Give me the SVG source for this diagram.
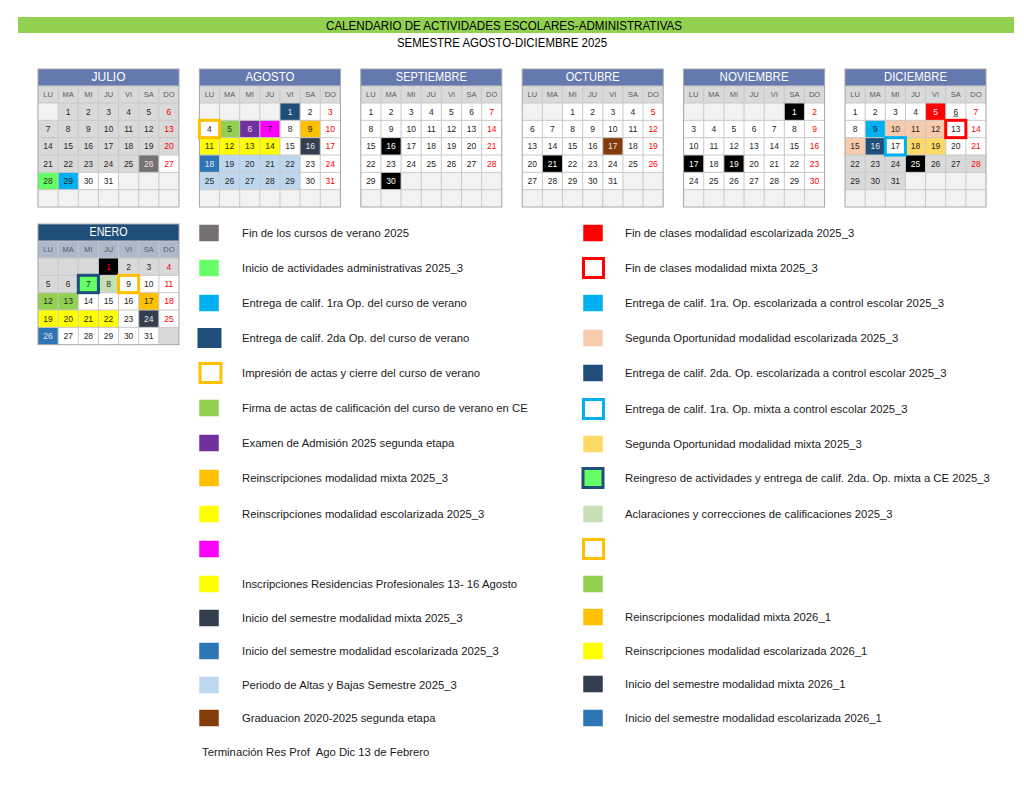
<svg xmlns="http://www.w3.org/2000/svg" width="1024" height="791" viewBox="0 0 1024 791">
<defs>
<style>
text{font-family:"Liberation Sans",Arial,sans-serif}
.hd{font-size:12px;fill:#000;text-anchor:middle}
.mt{font-size:12.5px;fill:#fff;text-anchor:middle}
.dh{font-size:7.5px;fill:#595959;text-anchor:middle}
.n{font-size:8.5px;fill:#262626;text-anchor:middle}
.r{fill:#FF0000}
.wt{fill:#FFFFFF}
.lt{fill:#E6E6E6}
.lg{font-size:11.3px;fill:#1A1A1A;white-space:pre}
.grid{fill:none;stroke:#C8C8C8;stroke-width:1}
.frame{fill:none;stroke:#A6A6A6;stroke-width:1}
.ttl{fill:#6479AE}
.dhb{fill:#D9D9D9}
.E{fill:#F2F2F2}
.W{fill:#FFFFFF}
.G{fill:#D9D9D9}
.bd{fill:none;stroke-width:3}
.bw{fill:#FFFFFF;stroke-width:3}
.sq{stroke:#FFFFFF;stroke-width:0.5}
</style>
<path id="g6" d="M20.14 17V138M40.29 17V138M60.43 17V138M80.57 17V138M100.71 17V138M120.86 17V138M0 17H141M0 34H141M0 51.33H141M0 68.67H141M0 86H141M0 103.33H141M0 120.67H141"/>
<path id="g5" d="M20.14 17V120.67M40.29 17V120.67M60.43 17V120.67M80.57 17V120.67M100.71 17V120.67M120.86 17V120.67M0 17H141M0 34H141M0 51.33H141M0 68.67H141M0 86H141M0 103.33H141"/>
<g id="dh" class="dh">
<text x="10.07" y="28.3">LU</text><text x="30.21" y="28.3">MA</text><text x="50.36" y="28.3">MI</text><text x="70.5" y="28.3">JU</text><text x="90.64" y="28.3">VI</text><text x="110.79" y="28.3">SA</text><text x="130.93" y="28.3">DO</text>
</g>
</defs>

<g id="header">
<rect x="18" y="17" width="996" height="16" fill="#92D050"/>
<text class="hd" x="504" y="29.5" textLength="356" lengthAdjust="spacingAndGlyphs">CALENDARIO DE ACTIVIDADES ESCOLARES-ADMINISTRATIVAS</text>
<text class="hd" x="502" y="46.5" textLength="210" lengthAdjust="spacingAndGlyphs">SEMESTRE AGOSTO-DICIEMBRE 2025</text>
</g>

<g id="julio" transform="translate(38,69)">
<rect class="ttl" width="141" height="17"/>
<text class="mt" x="70.5" y="12.4" textLength="34" lengthAdjust="spacingAndGlyphs">JULIO</text>
<rect class="dhb" y="17" width="141" height="17"/>
<rect class="W" y="34" width="141" height="104"/>
<rect class="E" y="34" width="20.14" height="17.33"/>
<rect class="G" x="20.14" y="34" width="120.86" height="17.33"/>
<rect class="G" y="51.33" width="141" height="34.67"/>
<rect class="G" y="86" width="100.71" height="17.33"/>
<rect fill="#767171" x="100.71" y="86" width="20.14" height="17.33"/>
<rect fill="#66FF66" y="103.33" width="20.14" height="17.33"/>
<rect fill="#00B0F0" x="20.14" y="103.33" width="20.14" height="17.33"/>
<rect class="E" x="80.57" y="103.33" width="60.43" height="17.33"/>
<rect class="E" y="120.67" width="141" height="17.33"/>
<use href="#g6" class="grid"/>
<rect class="frame" width="141" height="138"/>
<use href="#dh"/>
<g class="n">
<text y="45.7"><tspan x="30.21">1</tspan><tspan x="50.36">2</tspan><tspan x="70.5">3</tspan><tspan x="90.64">4</tspan><tspan x="110.79">5</tspan><tspan x="130.93" class="r">6</tspan></text>
<text y="63.03"><tspan x="10.07">7</tspan><tspan x="30.21">8</tspan><tspan x="50.36">9</tspan><tspan x="70.5">10</tspan><tspan x="90.64">11</tspan><tspan x="110.79">12</tspan><tspan x="130.93" class="r">13</tspan></text>
<text y="80.37"><tspan x="10.07">14</tspan><tspan x="30.21">15</tspan><tspan x="50.36">16</tspan><tspan x="70.5">17</tspan><tspan x="90.64">18</tspan><tspan x="110.79">19</tspan><tspan x="130.93" class="r">20</tspan></text>
<text y="97.7"><tspan x="10.07">21</tspan><tspan x="30.21">22</tspan><tspan x="50.36">23</tspan><tspan x="70.5">24</tspan><tspan x="90.64">25</tspan><tspan x="110.79" class="lt">26</tspan><tspan x="130.93" class="r">27</tspan></text>
<text y="115.03"><tspan x="10.07">28</tspan><tspan x="30.21">29</tspan><tspan x="50.36">30</tspan><tspan x="70.5">31</tspan></text>
</g>
</g>

<g id="agosto" transform="translate(199.4,69)">
<rect class="ttl" width="141" height="17"/>
<text class="mt" x="70.5" y="12.4" textLength="49" lengthAdjust="spacingAndGlyphs">AGOSTO</text>
<rect class="dhb" y="17" width="141" height="17"/>
<rect class="W" y="34" width="141" height="104"/>
<rect class="E" y="34" width="80.57" height="17.33"/>
<rect fill="#1F4E79" x="80.57" y="34" width="20.14" height="17.33"/>
<rect fill="#92D050" x="20.14" y="51.33" width="20.14" height="17.33"/>
<rect fill="#7030A0" x="40.29" y="51.33" width="20.14" height="17.33"/>
<rect fill="#FF00FF" x="60.43" y="51.33" width="20.14" height="17.33"/>
<rect fill="#FFC000" x="100.71" y="51.33" width="20.14" height="17.33"/>
<rect fill="#FFFF00" y="68.67" width="80.57" height="17.33"/>
<rect fill="#333F4F" x="100.71" y="68.67" width="20.14" height="17.33"/>
<rect fill="#2E75B6" y="86" width="20.14" height="17.33"/>
<rect fill="#BDD7EE" x="20.14" y="86" width="80.57" height="17.33"/>
<rect fill="#BDD7EE" y="103.33" width="100.71" height="17.33"/>
<rect class="E" y="120.67" width="141" height="17.33"/>
<use href="#g6" class="grid"/>
<rect class="frame" width="141" height="138"/>
<rect class="bd" stroke="#FFC000" y="51.33" width="20.14" height="17.33"/>
<use href="#dh"/>
<g class="n">
<text y="45.7"><tspan x="90.64" class="lt">1</tspan><tspan x="110.79">2</tspan><tspan x="130.93" class="r">3</tspan></text>
<text y="63.03"><tspan x="10.07">4</tspan><tspan x="30.21">5</tspan><tspan x="50.36" class="lt">6</tspan><tspan x="70.5">7</tspan><tspan x="90.64">8</tspan><tspan x="110.79">9</tspan><tspan x="130.93" class="r">10</tspan></text>
<text y="80.37"><tspan x="10.07">11</tspan><tspan x="30.21">12</tspan><tspan x="50.36">13</tspan><tspan x="70.5">14</tspan><tspan x="90.64">15</tspan><tspan x="110.79" class="lt">16</tspan><tspan x="130.93" class="r">17</tspan></text>
<text y="97.7"><tspan x="10.07" class="lt">18</tspan><tspan x="30.21">19</tspan><tspan x="50.36">20</tspan><tspan x="70.5">21</tspan><tspan x="90.64">22</tspan><tspan x="110.79">23</tspan><tspan x="130.93" class="r">24</tspan></text>
<text y="115.03"><tspan x="10.07">25</tspan><tspan x="30.21">26</tspan><tspan x="50.36">27</tspan><tspan x="70.5">28</tspan><tspan x="90.64">29</tspan><tspan x="110.79">30</tspan><tspan x="130.93" class="r">31</tspan></text>
</g>
</g>

<g id="septiembre" transform="translate(360.8,69)">
<rect class="ttl" width="141" height="17"/>
<text class="mt" x="70.5" y="12.4" textLength="71" lengthAdjust="spacingAndGlyphs">SEPTIEMBRE</text>
<rect class="dhb" y="17" width="141" height="17"/>
<rect class="W" y="34" width="141" height="104"/>
<rect fill="#000000" x="20.14" y="68.67" width="20.14" height="17.33"/>
<rect fill="#000000" x="20.14" y="103.33" width="20.14" height="17.33"/>
<rect class="E" x="40.29" y="103.33" width="100.71" height="17.33"/>
<rect class="E" y="120.67" width="141" height="17.33"/>
<use href="#g6" class="grid"/>
<rect class="frame" width="141" height="138"/>
<use href="#dh"/>
<g class="n">
<text y="45.7"><tspan x="10.07">1</tspan><tspan x="30.21">2</tspan><tspan x="50.36">3</tspan><tspan x="70.5">4</tspan><tspan x="90.64">5</tspan><tspan x="110.79">6</tspan><tspan x="130.93" class="r">7</tspan></text>
<text y="63.03"><tspan x="10.07">8</tspan><tspan x="30.21">9</tspan><tspan x="50.36">10</tspan><tspan x="70.5">11</tspan><tspan x="90.64">12</tspan><tspan x="110.79">13</tspan><tspan x="130.93" class="r">14</tspan></text>
<text y="80.37"><tspan x="10.07">15</tspan><tspan x="30.21" class="wt">16</tspan><tspan x="50.36">17</tspan><tspan x="70.5">18</tspan><tspan x="90.64">19</tspan><tspan x="110.79">20</tspan><tspan x="130.93" class="r">21</tspan></text>
<text y="97.7"><tspan x="10.07">22</tspan><tspan x="30.21">23</tspan><tspan x="50.36">24</tspan><tspan x="70.5">25</tspan><tspan x="90.64">26</tspan><tspan x="110.79">27</tspan><tspan x="130.93" class="r">28</tspan></text>
<text y="115.03"><tspan x="10.07">29</tspan><tspan x="30.21" class="wt">30</tspan></text>
</g>
</g>

<g id="octubre" transform="translate(522.2,69)">
<rect class="ttl" width="141" height="17"/>
<text class="mt" x="70.5" y="12.4" textLength="54" lengthAdjust="spacingAndGlyphs">OCTUBRE</text>
<rect class="dhb" y="17" width="141" height="17"/>
<rect class="W" y="34" width="141" height="104"/>
<rect class="E" y="34" width="40.29" height="17.33"/>
<rect fill="#843C0C" x="80.57" y="68.67" width="20.14" height="17.33"/>
<rect fill="#000000" x="20.14" y="86" width="20.14" height="17.33"/>
<rect class="E" x="100.71" y="103.33" width="40.29" height="17.33"/>
<rect class="E" y="120.67" width="141" height="17.33"/>
<use href="#g6" class="grid"/>
<rect class="frame" width="141" height="138"/>
<use href="#dh"/>
<g class="n">
<text y="45.7"><tspan x="50.36">1</tspan><tspan x="70.5">2</tspan><tspan x="90.64">3</tspan><tspan x="110.79">4</tspan><tspan x="130.93" class="r">5</tspan></text>
<text y="63.03"><tspan x="10.07">6</tspan><tspan x="30.21">7</tspan><tspan x="50.36">8</tspan><tspan x="70.5">9</tspan><tspan x="90.64">10</tspan><tspan x="110.79">11</tspan><tspan x="130.93" class="r">12</tspan></text>
<text y="80.37"><tspan x="10.07">13</tspan><tspan x="30.21">14</tspan><tspan x="50.36">15</tspan><tspan x="70.5">16</tspan><tspan x="90.64" class="lt">17</tspan><tspan x="110.79">18</tspan><tspan x="130.93" class="r">19</tspan></text>
<text y="97.7"><tspan x="10.07">20</tspan><tspan x="30.21" class="wt">21</tspan><tspan x="50.36">22</tspan><tspan x="70.5">23</tspan><tspan x="90.64">24</tspan><tspan x="110.79">25</tspan><tspan x="130.93" class="r">26</tspan></text>
<text y="115.03"><tspan x="10.07">27</tspan><tspan x="30.21">28</tspan><tspan x="50.36">29</tspan><tspan x="70.5">30</tspan><tspan x="90.64">31</tspan></text>
</g>
</g>

<g id="noviembre" transform="translate(683.6,69)">
<rect class="ttl" width="141" height="17"/>
<text class="mt" x="70.5" y="12.4" textLength="69" lengthAdjust="spacingAndGlyphs">NOVIEMBRE</text>
<rect class="dhb" y="17" width="141" height="17"/>
<rect class="W" y="34" width="141" height="104"/>
<rect class="E" y="34" width="100.71" height="17.33"/>
<rect fill="#000000" x="100.71" y="34" width="20.14" height="17.33"/>
<rect fill="#000000" y="86" width="20.14" height="17.33"/>
<rect fill="#000000" x="40.29" y="86" width="20.14" height="17.33"/>
<rect class="E" y="120.67" width="141" height="17.33"/>
<use href="#g6" class="grid"/>
<rect class="frame" width="141" height="138"/>
<use href="#dh"/>
<g class="n">
<text y="45.7"><tspan x="110.79" class="wt">1</tspan><tspan x="130.93" class="r">2</tspan></text>
<text y="63.03"><tspan x="10.07">3</tspan><tspan x="30.21">4</tspan><tspan x="50.36">5</tspan><tspan x="70.5">6</tspan><tspan x="90.64">7</tspan><tspan x="110.79">8</tspan><tspan x="130.93" class="r">9</tspan></text>
<text y="80.37"><tspan x="10.07">10</tspan><tspan x="30.21">11</tspan><tspan x="50.36">12</tspan><tspan x="70.5">13</tspan><tspan x="90.64">14</tspan><tspan x="110.79">15</tspan><tspan x="130.93" class="r">16</tspan></text>
<text y="97.7"><tspan x="10.07" class="wt">17</tspan><tspan x="30.21">18</tspan><tspan x="50.36" class="wt">19</tspan><tspan x="70.5">20</tspan><tspan x="90.64">21</tspan><tspan x="110.79">22</tspan><tspan x="130.93" class="r">23</tspan></text>
<text y="115.03"><tspan x="10.07">24</tspan><tspan x="30.21">25</tspan><tspan x="50.36">26</tspan><tspan x="70.5">27</tspan><tspan x="90.64">28</tspan><tspan x="110.79">29</tspan><tspan x="130.93" class="r">30</tspan></text>
</g>
</g>

<g id="diciembre" transform="translate(845,69)">
<rect class="ttl" width="141" height="17"/>
<text class="mt" x="70.5" y="12.4" textLength="63" lengthAdjust="spacingAndGlyphs">DICIEMBRE</text>
<rect class="dhb" y="17" width="141" height="17"/>
<rect class="W" y="34" width="141" height="104"/>
<rect fill="#FF0000" x="80.57" y="34" width="20.14" height="17.33"/>
<rect fill="#00B0F0" x="20.14" y="51.33" width="20.14" height="17.33"/>
<rect fill="#F8CBAD" x="40.29" y="51.33" width="60.43" height="17.33"/>
<rect fill="#F8CBAD" y="68.67" width="20.14" height="17.33"/>
<rect fill="#1F4E79" x="20.14" y="68.67" width="20.14" height="17.33"/>
<rect fill="#FFD966" x="60.43" y="68.67" width="40.29" height="17.33"/>
<rect class="G" y="86" width="60.43" height="17.33"/>
<rect fill="#000000" x="60.43" y="86" width="20.14" height="17.33"/>
<rect class="G" x="80.57" y="86" width="60.43" height="17.33"/>
<rect class="G" y="103.33" width="60.43" height="17.33"/>
<rect class="E" x="60.43" y="103.33" width="80.57" height="17.33"/>
<rect class="E" y="120.67" width="141" height="17.33"/>
<use href="#g6" class="grid"/>
<rect class="frame" width="141" height="138"/>
<rect class="bd" stroke="#FF0000" x="100.71" y="51.33" width="20.14" height="17.33"/>
<rect class="bd" stroke="#00B0F0" x="40.29" y="68.67" width="20.14" height="17.33"/>
<use href="#dh"/>
<g class="n">
<text y="45.7"><tspan x="10.07">1</tspan><tspan x="30.21">2</tspan><tspan x="50.36">3</tspan><tspan x="70.5">4</tspan><tspan x="90.64" class="wt">5</tspan><tspan x="110.79" text-decoration="underline">6</tspan><tspan x="130.93" class="r">7</tspan></text>
<text y="63.03"><tspan x="10.07">8</tspan><tspan x="30.21">9</tspan><tspan x="50.36">10</tspan><tspan x="70.5">11</tspan><tspan x="90.64">12</tspan><tspan x="110.79">13</tspan><tspan x="130.93" class="r">14</tspan></text>
<text y="80.37"><tspan x="10.07">15</tspan><tspan x="30.21" class="lt">16</tspan><tspan x="50.36">17</tspan><tspan x="70.5">18</tspan><tspan x="90.64">19</tspan><tspan x="110.79">20</tspan><tspan x="130.93" class="r">21</tspan></text>
<text y="97.7"><tspan x="10.07">22</tspan><tspan x="30.21">23</tspan><tspan x="50.36">24</tspan><tspan x="70.5" class="wt">25</tspan><tspan x="90.64">26</tspan><tspan x="110.79">27</tspan><tspan x="130.93" class="r">28</tspan></text>
<text y="115.03"><tspan x="10.07">29</tspan><tspan x="30.21">30</tspan><tspan x="50.36">31</tspan></text>
</g>
</g>

<g id="enero" transform="translate(38,224)">
<rect fill="#1F4E79" width="141" height="17"/>
<text class="mt" x="70.5" y="12.4" textLength="38" lengthAdjust="spacingAndGlyphs">ENERO</text>
<rect fill="#ADB9CA" y="17" width="141" height="17"/>
<rect class="W" y="34" width="141" height="86.67"/>
<rect class="G" y="34" width="60.43" height="17.33"/>
<rect fill="#000000" x="60.43" y="34" width="20.14" height="17.33"/>
<rect class="G" x="80.57" y="34" width="60.43" height="17.33"/>
<rect class="G" y="51.33" width="40.29" height="17.33"/>
<rect fill="#66FF66" x="40.29" y="51.33" width="20.14" height="17.33"/>
<rect fill="#C5E0B4" x="60.43" y="51.33" width="20.14" height="17.33"/>
<rect fill="#92D050" y="68.67" width="40.29" height="17.33"/>
<rect fill="#FFC000" x="100.71" y="68.67" width="20.14" height="17.33"/>
<rect fill="#FFFF00" y="86" width="80.57" height="17.33"/>
<rect fill="#333F4F" x="100.71" y="86" width="20.14" height="17.33"/>
<rect fill="#2E75B6" y="103.33" width="20.14" height="17.33"/>
<rect class="G" x="120.86" y="103.33" width="20.14" height="17.33"/>
<use href="#g5" class="grid"/>
<rect class="frame" width="141" height="120.67"/>
<rect class="bd" stroke="#1F4E79" x="40.29" y="51.33" width="20.14" height="17.33"/>
<rect class="bd" stroke="#FFC000" x="80.57" y="51.33" width="20.14" height="17.33"/>
<use href="#dh"/>
<g class="n">
<text y="45.7"><tspan x="70.5" class="r">1</tspan><tspan x="90.64">2</tspan><tspan x="110.79">3</tspan><tspan x="130.93" class="r">4</tspan></text>
<text y="63.03"><tspan x="10.07">5</tspan><tspan x="30.21">6</tspan><tspan x="50.36">7</tspan><tspan x="70.5">8</tspan><tspan x="90.64">9</tspan><tspan x="110.79">10</tspan><tspan x="130.93" class="r">11</tspan></text>
<text y="80.37"><tspan x="10.07">12</tspan><tspan x="30.21">13</tspan><tspan x="50.36">14</tspan><tspan x="70.5">15</tspan><tspan x="90.64">16</tspan><tspan x="110.79">17</tspan><tspan x="130.93" class="r">18</tspan></text>
<text y="97.7"><tspan x="10.07">19</tspan><tspan x="30.21">20</tspan><tspan x="50.36">21</tspan><tspan x="70.5">22</tspan><tspan x="90.64">23</tspan><tspan x="110.79" class="lt">24</tspan><tspan x="130.93" class="r">25</tspan></text>
<text y="115.03"><tspan x="10.07" class="lt">26</tspan><tspan x="30.21">27</tspan><tspan x="50.36">28</tspan><tspan x="70.5">29</tspan><tspan x="90.64">30</tspan><tspan x="110.79">31</tspan></text>
</g>
</g>

<g id="legend-left">
<g id="L1"><rect class="sq" fill="#767171" x="199" y="224.5" width="20" height="17"/><text class="lg" x="242" y="237">Fin de los cursos de verano 2025</text></g>
<g id="L2"><rect class="sq" fill="#66FF66" x="199" y="259.5" width="20" height="17"/><text class="lg" x="242" y="272">Inicio de actividades administrativas 2025_3</text></g>
<g id="L3"><rect class="sq" fill="#00B0F0" x="199" y="294.5" width="20" height="17"/><text class="lg" x="242" y="307">Entrega de calif. 1ra Op. del curso de verano</text></g>
<g id="L4"><rect fill="#1F4E79" x="197.5" y="328" width="24" height="20"/><text class="lg" x="242" y="342">Entrega de calif. 2da Op. del curso de verano</text></g>
<g id="L5"><rect class="bw" stroke="#FFC000" x="200" y="363.5" width="21" height="19"/><text class="lg" x="242" y="377">Impresión de actas y cierre del curso de verano</text></g>
<g id="L6"><rect class="sq" fill="#92D050" x="199" y="399.5" width="20" height="17"/><text class="lg" x="242" y="412">Firma de actas de calificación del curso de verano en CE</text></g>
<g id="L7"><rect class="sq" fill="#7030A0" x="199" y="434.5" width="20" height="17"/><text class="lg" x="242" y="447">Examen de Admisión 2025 segunda etapa</text></g>
<g id="L8"><rect class="sq" fill="#FFC000" x="199" y="469.5" width="20" height="17"/><text class="lg" x="242" y="482">Reinscripciones modalidad mixta 2025_3</text></g>
<g id="L9"><rect class="sq" fill="#FFFF00" x="199" y="505.5" width="20" height="17"/><text class="lg" x="242" y="518">Reinscripciones modalidad escolarizada 2025_3</text></g>
<g id="L10"><rect class="sq" fill="#FF00FF" x="199" y="540.5" width="20" height="17"/></g>
<g id="L11"><rect class="sq" fill="#FFFF00" x="199" y="575.5" width="20" height="17"/><text class="lg" x="242" y="588">Inscripciones Residencias Profesionales 13- 16 Agosto</text></g>
<g id="L12"><rect class="sq" fill="#333F4F" x="199" y="609.5" width="20" height="17"/><text class="lg" x="242" y="622">Inicio del semestre modalidad mixta 2025_3</text></g>
<g id="L13"><rect class="sq" fill="#2E75B6" x="199" y="642.5" width="20" height="17"/><text class="lg" x="242" y="655">Inicio del semestre modalidad escolarizada 2025_3</text></g>
<g id="L14"><rect class="sq" fill="#BDD7EE" x="199" y="676.5" width="20" height="17"/><text class="lg" x="242" y="689">Periodo de Altas y Bajas Semestre 2025_3</text></g>
<g id="L15"><rect class="sq" fill="#843C0C" x="199" y="709.5" width="20" height="17"/><text class="lg" x="242" y="722">Graduacion 2020-2025 segunda etapa</text></g>
<g id="L16"><text class="lg" x="202" y="756" xml:space="preserve">Terminación Res Prof  Ago Dic 13 de Febrero</text></g>
</g>

<g id="legend-right">
<g id="R1"><rect class="sq" fill="#FF0000" x="583" y="224.5" width="20" height="17"/><text class="lg" x="625" y="237">Fin de clases modalidad escolarizada 2025_3</text></g>
<g id="R2"><rect class="bw" stroke="#FF0000" x="583.5" y="258.5" width="20" height="19"/><text class="lg" x="625" y="272">Fin de clases modalidad mixta 2025_3</text></g>
<g id="R3"><rect class="sq" fill="#00B0F0" x="583" y="294.5" width="20" height="17"/><text class="lg" x="625" y="307">Entrega de calif. 1ra. Op. escolarizada a control escolar 2025_3</text></g>
<g id="R4"><rect class="sq" fill="#F8CBAD" x="583" y="329.5" width="20" height="17"/><text class="lg" x="625" y="342">Segunda Oportunidad modalidad escolarizada 2025_3</text></g>
<g id="R5"><rect class="sq" fill="#1F4E79" x="583" y="364.5" width="20" height="17"/><text class="lg" x="625" y="377">Entrega de calif. 2da. Op. escolarizada a control escolar 2025_3</text></g>
<g id="R6"><rect class="bw" stroke="#00B0F0" x="583.5" y="399.5" width="20" height="19"/><text class="lg" x="625" y="413">Entrega de calif. 1ra. Op. mixta a control escolar 2025_3</text></g>
<g id="R7"><rect class="sq" fill="#FFD966" x="583" y="435.5" width="20" height="17"/><text class="lg" x="625" y="448">Segunda Oportunidad modalidad mixta 2025_3</text></g>
<g id="R8"><rect style="fill:#66FF66;stroke:#1F4E79;stroke-width:3" x="583" y="468.5" width="20" height="19"/><text class="lg" x="625" y="482">Reingreso de actividades y entrega de calif. 2da. Op. mixta a CE 2025_3</text></g>
<g id="R9"><rect class="sq" fill="#C5E0B4" x="583" y="505.5" width="20" height="17"/><text class="lg" x="625" y="518">Aclaraciones y correcciones de calificaciones 2025_3</text></g>
<g id="R10"><rect class="bw" stroke="#FFC000" x="583.5" y="539.5" width="20" height="19"/></g>
<g id="R11"><rect class="sq" fill="#92D050" x="583" y="575.5" width="20" height="17"/></g>
<g id="R12"><rect class="sq" fill="#FFC000" x="583" y="608.5" width="20" height="17"/><text class="lg" x="625" y="621">Reinscripciones modalidad mixta 2026_1</text></g>
<g id="R13"><rect class="sq" fill="#FFFF00" x="583" y="642.5" width="20" height="17"/><text class="lg" x="625" y="655">Reinscripciones modalidad escolarizada 2026_1</text></g>
<g id="R14"><rect class="sq" fill="#333F4F" x="583" y="675.5" width="20" height="17"/><text class="lg" x="625" y="688">Inicio del semestre modalidad mixta 2026_1</text></g>
<g id="R15"><rect class="sq" fill="#2E75B6" x="583" y="709.5" width="20" height="17"/><text class="lg" x="625" y="722">Inicio del semestre modalidad escolarizada 2026_1</text></g>
</g>
</svg>
